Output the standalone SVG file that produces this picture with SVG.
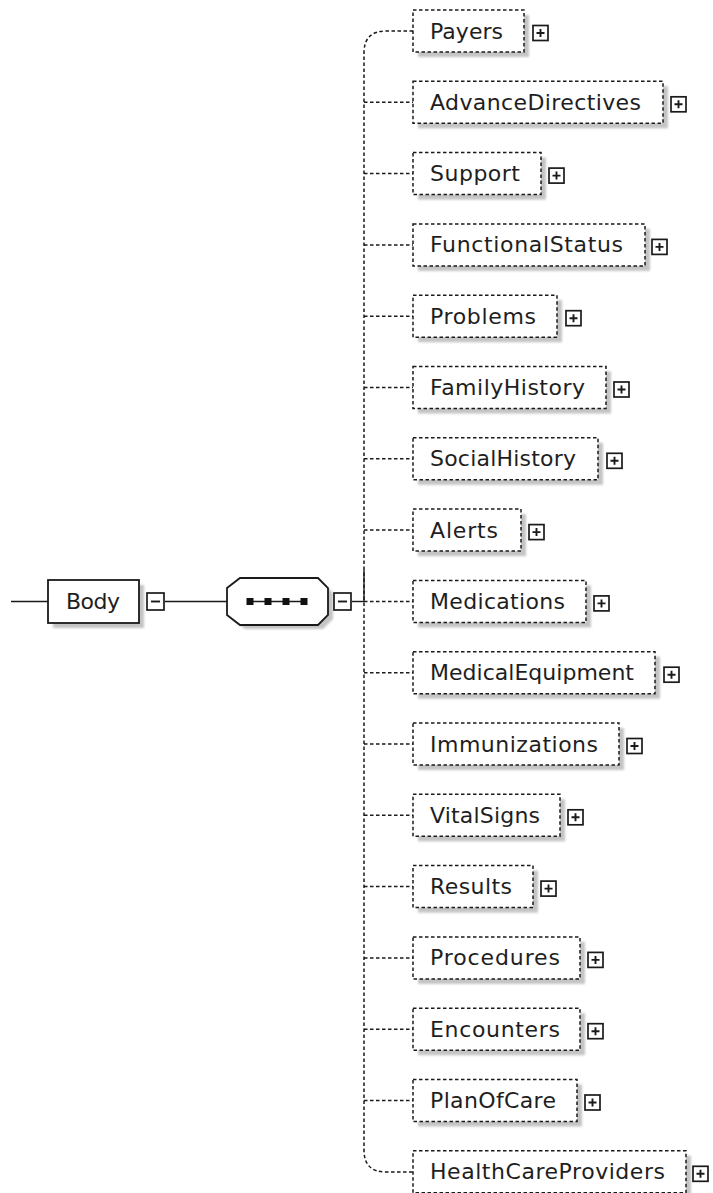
<svg xmlns="http://www.w3.org/2000/svg" width="713" height="1193" viewBox="0 0 713 1193">
  <defs>
    <style>
      .bg { fill: #ffffff; }
      .shadow { fill: #c4c4c4; filter: url(#soft); }
      .elem { fill: #ffffff; stroke: #1a1a1a; stroke-width: 1.5; stroke-dasharray: 3.5 2.5; }
      .solid { fill: #ffffff; stroke: #1a1a1a; stroke-width: 1.8; }
      .label { font-family: "DejaVu Sans", "Liberation Sans", sans-serif; font-size: 22px; fill: #1e1e1e; }
      .btn { fill: #ffffff; stroke: #1a1a1a; stroke-width: 1.7; }
      .glyph { stroke: #1a1a1a; stroke-width: 1.9; fill: none; }
      .wire { stroke: #1a1a1a; stroke-width: 1.4; fill: none; }
      .dashed { stroke: #1a1a1a; stroke-width: 1.5; fill: none; stroke-dasharray: 3.5 2.5; }
    </style>
    <filter id="soft" x="-10%" y="-20%" width="120%" height="140%">
      <feGaussianBlur stdDeviation="1"/>
    </filter>
    <!-- expand (+) and collapse (-) toggles -->
    <g id="plus">
      <rect class="btn" x="0" y="-7.5" width="15" height="15"/>
      <path class="glyph" d="M3.5 0H11.5M7.5 -4V4"/>
    </g>
    <g id="minus">
      <rect class="btn" x="0" y="-9" width="17" height="17"/>
      <path class="glyph" d="M4 -0.5H13"/>
    </g>
  </defs>

  <rect class="bg" x="0" y="0" width="713" height="1193"/>

  <!-- connectors -->
  <g id="connectors">
    <path class="wire" d="M11 601.5H48"/>
    <path class="wire" d="M165 601.5H227"/>
    <path class="wire" d="M352 601.5H364"/>
    <path class="wire" d="M364 570V601.5"/>
    <!-- spine with rounded ends -->
    <path class="dashed" d="M413 31H386Q364 31 364 53V1150Q364 1172 386 1172H413"/>
    <path class="dashed" d="M364 102.3H413 M364 173.6H413 M364 244.9H413 M364 316.2H413 M364 387.5H413 M364 458.8H413 M364 530.1H413 M364 601.4H413 M364 672.7H413 M364 744H413 M364 815.3H413 M364 886.6H413 M364 957.9H413 M364 1029.2H413 M364 1100.5H413"/>
  </g>

  <!-- root element -->
  <g id="node-body">
    <rect class="shadow" x="53" y="585" width="91" height="43"/>
    <rect class="solid" x="48" y="580" width="91" height="43"/>
    <text class="label" x="66" y="609" textLength="54" lengthAdjust="spacing">Body</text>
    <use href="#minus" x="147" y="602"/>
  </g>

  <!-- sequence compositor -->
  <g id="node-sequence">
    <path class="shadow" d="M245 583H323L333 593V619L323 629H245L232 619V593Z"/>
    <path class="solid" d="M240 578H318L328 588V615L318 625H240L227 615V588Z"/>
    <path class="wire" d="M250 601.5H305" stroke-width="2"/>
    <rect x="246.5" y="598" width="7" height="7" fill="#111"/>
    <rect x="264.5" y="598" width="7" height="7" fill="#111"/>
    <rect x="282.5" y="598" width="7" height="7" fill="#111"/>
    <rect x="300.5" y="598" width="7" height="7" fill="#111"/>
    <use href="#minus" x="334" y="602"/>
  </g>

  <!-- child elements -->
  <g id="node-payers" transform="translate(0,31)">
    <rect class="shadow" x="418" y="-16" width="111" height="42"/>
    <rect class="elem" x="413" y="-21" width="111" height="42"/>
    <text class="label" x="430" y="7.5" textLength="73" lengthAdjust="spacing">Payers</text>
    <use href="#plus" x="533" y="2"/>
  </g>
  <g id="node-advancedirectives" transform="translate(0,102.3)">
    <rect class="shadow" x="418" y="-16" width="250" height="42"/>
    <rect class="elem" x="413" y="-21" width="250" height="42"/>
    <text class="label" x="430" y="7.5" textLength="211" lengthAdjust="spacing">AdvanceDirectives</text>
    <use href="#plus" x="671" y="2"/>
  </g>
  <g id="node-support" transform="translate(0,173.6)">
    <rect class="shadow" x="418" y="-16" width="128" height="42"/>
    <rect class="elem" x="413" y="-21" width="128" height="42"/>
    <text class="label" x="430" y="7.5" textLength="90" lengthAdjust="spacing">Support</text>
    <use href="#plus" x="549" y="2"/>
  </g>
  <g id="node-functionalstatus" transform="translate(0,244.9)">
    <rect class="shadow" x="418" y="-16" width="232" height="42"/>
    <rect class="elem" x="413" y="-21" width="232" height="42"/>
    <text class="label" x="430" y="7.5" textLength="193" lengthAdjust="spacing">FunctionalStatus</text>
    <use href="#plus" x="652" y="2"/>
  </g>
  <g id="node-problems" transform="translate(0,316.2)">
    <rect class="shadow" x="418" y="-16" width="144" height="42"/>
    <rect class="elem" x="413" y="-21" width="144" height="42"/>
    <text class="label" x="430" y="7.5" textLength="106" lengthAdjust="spacing">Problems</text>
    <use href="#plus" x="566" y="2"/>
  </g>
  <g id="node-familyhistory" transform="translate(0,387.5)">
    <rect class="shadow" x="418" y="-16" width="193" height="42"/>
    <rect class="elem" x="413" y="-21" width="193" height="42"/>
    <text class="label" x="430" y="7.5" textLength="155" lengthAdjust="spacing">FamilyHistory</text>
    <use href="#plus" x="614" y="2"/>
  </g>
  <g id="node-socialhistory" transform="translate(0,458.8)">
    <rect class="shadow" x="418" y="-16" width="185" height="42"/>
    <rect class="elem" x="413" y="-21" width="185" height="42"/>
    <text class="label" x="430" y="7.5" textLength="146" lengthAdjust="spacing">SocialHistory</text>
    <use href="#plus" x="607" y="2"/>
  </g>
  <g id="node-alerts" transform="translate(0,530.1)">
    <rect class="shadow" x="418" y="-16" width="108" height="42"/>
    <rect class="elem" x="413" y="-21" width="108" height="42"/>
    <text class="label" x="430" y="7.5" textLength="68" lengthAdjust="spacing">Alerts</text>
    <use href="#plus" x="529" y="2"/>
  </g>
  <g id="node-medications" transform="translate(0,601.4)">
    <rect class="shadow" x="418" y="-16" width="173" height="42"/>
    <rect class="elem" x="413" y="-21" width="173" height="42"/>
    <text class="label" x="430" y="7.5" textLength="135" lengthAdjust="spacing">Medications</text>
    <use href="#plus" x="594" y="2"/>
  </g>
  <g id="node-medicalequipment" transform="translate(0,672.7)">
    <rect class="shadow" x="418" y="-16" width="242" height="42"/>
    <rect class="elem" x="413" y="-21" width="242" height="42"/>
    <text class="label" x="430" y="7.5" textLength="204" lengthAdjust="spacing">MedicalEquipment</text>
    <use href="#plus" x="664" y="2"/>
  </g>
  <g id="node-immunizations" transform="translate(0,744)">
    <rect class="shadow" x="418" y="-16" width="206" height="42"/>
    <rect class="elem" x="413" y="-21" width="206" height="42"/>
    <text class="label" x="430" y="7.5" textLength="168" lengthAdjust="spacing">Immunizations</text>
    <use href="#plus" x="627" y="2"/>
  </g>
  <g id="node-vitalsigns" transform="translate(0,815.3)">
    <rect class="shadow" x="418" y="-16" width="147" height="42"/>
    <rect class="elem" x="413" y="-21" width="147" height="42"/>
    <text class="label" x="430" y="7.5" textLength="110" lengthAdjust="spacing">VitalSigns</text>
    <use href="#plus" x="568" y="2"/>
  </g>
  <g id="node-results" transform="translate(0,886.6)">
    <rect class="shadow" x="418" y="-16" width="120" height="42"/>
    <rect class="elem" x="413" y="-21" width="120" height="42"/>
    <text class="label" x="430" y="7.5" textLength="82" lengthAdjust="spacing">Results</text>
    <use href="#plus" x="541" y="2"/>
  </g>
  <g id="node-procedures" transform="translate(0,957.9)">
    <rect class="shadow" x="418" y="-16" width="167" height="42"/>
    <rect class="elem" x="413" y="-21" width="167" height="42"/>
    <text class="label" x="430" y="7.5" textLength="130" lengthAdjust="spacing">Procedures</text>
    <use href="#plus" x="588" y="2"/>
  </g>
  <g id="node-encounters" transform="translate(0,1029.2)">
    <rect class="shadow" x="418" y="-16" width="167" height="42"/>
    <rect class="elem" x="413" y="-21" width="167" height="42"/>
    <text class="label" x="430" y="7.5" textLength="130" lengthAdjust="spacing">Encounters</text>
    <use href="#plus" x="588" y="2"/>
  </g>
  <g id="node-planofcare" transform="translate(0,1100.5)">
    <rect class="shadow" x="418" y="-16" width="164" height="42"/>
    <rect class="elem" x="413" y="-21" width="164" height="42"/>
    <text class="label" x="430" y="7.5" textLength="126" lengthAdjust="spacing">PlanOfCare</text>
    <use href="#plus" x="585" y="2"/>
  </g>
  <g id="node-healthcareproviders" transform="translate(0,1171.8)">
    <rect class="shadow" x="418" y="-16" width="273" height="42"/>
    <rect class="elem" x="413" y="-21" width="273" height="42"/>
    <text class="label" x="430" y="7.5" textLength="235" lengthAdjust="spacing">HealthCareProviders</text>
    <use href="#plus" x="693" y="2"/>
  </g>
</svg>
